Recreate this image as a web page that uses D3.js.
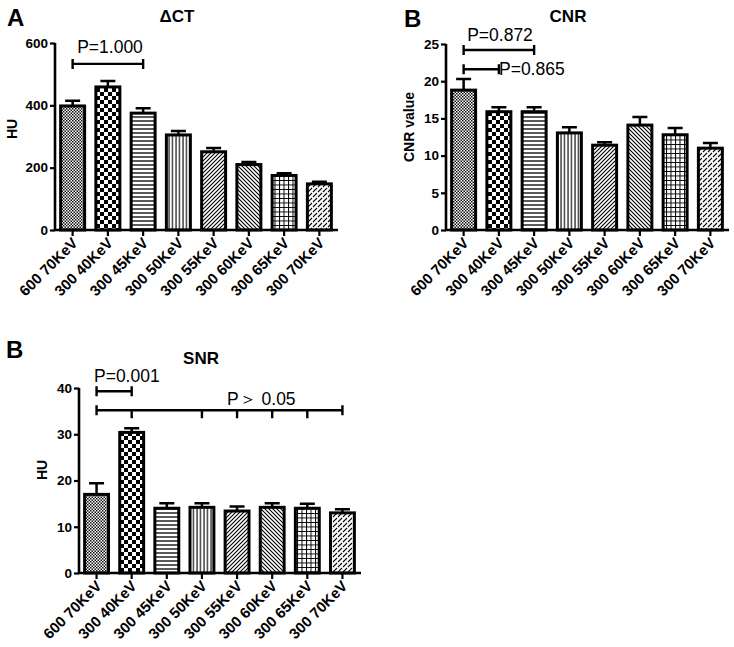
<!DOCTYPE html>
<html><head><meta charset="utf-8">
<script src="https://cdn.jsdelivr.net/npm/d3@7"></script>
<style>body{margin:0;background:#fff}svg{display:block}text{font-family:"Liberation Sans",Arial,sans-serif}</style>
</head><body>
<svg id="c" width="734" height="647"></svg>
<script>
const categories = ["600 70KeV","300 40KeV","300 45KeV","300 50KeV","300 55KeV","300 60KeV","300 65KeV","300 70KeV"];
const ctMean = [398, 459, 375, 305, 251, 210, 175, 148];
const ctErr  = [415, 478, 391, 318, 263, 218, 182, 155];
const cnrMean = [18.8, 15.9, 15.9, 13.05, 11.4, 14.1, 12.8, 11.0];
const cnrErr  = [20.3, 16.5, 16.5, 13.8, 11.8, 15.2, 13.7, 11.7];
const snrMean = [17.0, 30.4, 14.0, 14.2, 13.4, 14.2, 14.0, 13.0];
const snrErr  = [19.4, 31.3, 15.1, 15.1, 14.4, 15.1, 15.0, 13.8];
const ctTicks = [0, 200, 400, 600];
const cnrTicks = [0, 5, 10, 15, 20, 25];
const snrTicks = [0, 10, 20, 30, 40];
const patterns = ["p1","p2","p3","p4","p5","p6","p7","p8"];

const svg = d3.select("#c");
const defs = svg.append("defs");
function pat(id, w, h, draw){
  const p = defs.append("pattern").attr("id", id).attr("patternUnits","userSpaceOnUse").attr("width", w).attr("height", h);
  p.append("rect").attr("width", w).attr("height", h).attr("fill","#fff");
  draw(p);
}
pat("p1", 3, 3, p => { p.append("rect").attr("width",1.5).attr("height",1.5).attr("fill","#111"); p.append("rect").attr("x",1.5).attr("y",1.5).attr("width",1.5).attr("height",1.5).attr("fill","#111"); });
pat("p2", 8, 8, p => { p.append("rect").attr("width",4).attr("height",4).attr("fill","#000"); p.append("rect").attr("x",4).attr("y",4).attr("width",4).attr("height",4).attr("fill","#000"); });
pat("p3", 4, 4, p => { p.append("line").attr("x1",0).attr("x2",4).attr("y1",1).attr("y2",1).attr("stroke","#000").attr("stroke-width",1.3); });
pat("p4", 3.5, 4, p => { p.append("line").attr("x1",1).attr("x2",1).attr("y1",0).attr("y2",4).attr("stroke","#000").attr("stroke-width",1.1); });
pat("p5", 4, 4, p => { p.append("path").attr("d","M-1,1 L1,-1 M0,4 L4,0 M3,5 L5,3").attr("stroke","#000").attr("stroke-width",1.1); });
pat("p6", 4, 4, p => { p.append("path").attr("d","M-1,3 L1,5 M0,0 L4,4 M3,-1 L5,1").attr("stroke","#000").attr("stroke-width",1.1); });
pat("p7", 4.5, 4.5, p => { p.append("path").attr("d","M0,0.5 L4.5,0.5 M0.5,0 L0.5,4.5").attr("stroke","#000").attr("stroke-width",1); });
pat("p8", 5, 5, p => { p.append("path").attr("d","M-1.25,1.25 L1.25,-1.25 M0,5 L2,3 M3,2 L5,0 M3.75,6.25 L6.25,3.75").attr("stroke","#000").attr("stroke-width",1.2); });

function panel(cfg){
  const g = svg.append("g");
  const x = d3.scaleBand().domain(categories).range([cfg.x0, cfg.x1]).paddingInner(0.32).paddingOuter(0.16);
  const y = d3.scaleLinear().domain([0, cfg.ymax]).range([cfg.yb, cfg.yt]);
  const cx = d => x(d) + x.bandwidth()/2;
  g.selectAll(".bar").data(categories).join("rect")
    .attr("x", d => x(d)).attr("width", x.bandwidth())
    .attr("y", (d,i) => y(cfg.mean[i])).attr("height", (d,i) => y(0) - y(cfg.mean[i]))
    .attr("fill", (d,i) => `url(#${patterns[i]})`).attr("stroke","#000").attr("stroke-width",3);
  g.selectAll(".eb").data(categories).join("path")
    .attr("d", (d,i) => `M${cx(d)},${y(cfg.mean[i])}V${y(cfg.err[i])}M${cx(d)-7.5},${y(cfg.err[i])}H${cx(d)+7.5}`)
    .attr("stroke","#000").attr("stroke-width",2.5).attr("fill","none");
  const ya = g.append("g").attr("transform",`translate(${cfg.x0},0)`)
    .call(d3.axisLeft(y).tickValues(cfg.ticks).tickSize(5).tickPadding(2).tickFormat(d3.format("d")));
  const xa = g.append("g").attr("transform",`translate(0,${cfg.yb})`)
    .call(d3.axisBottom(x).tickSize(6).tickSizeOuter(0).tickFormat(""));
  [ya, xa].forEach(a => { a.select(".domain").attr("stroke","#000").attr("stroke-width",2.6);
    a.selectAll(".tick line").attr("stroke","#000").attr("stroke-width",2.2);
    a.selectAll("text").attr("font-size",13.5).attr("font-weight","bold").attr("fill","#000"); });
  ya.select(".domain").attr("d", `M0,${cfg.yb+1}V${cfg.yt}`);
  ya.selectAll(".tick line").attr("x2",-5);
  xa.select(".domain").attr("d", `M${cfg.x0-1},0H${cfg.x1+1}`);
  g.selectAll(".xl").data(categories).join("text")
    .attr("transform", d => `translate(${cx(d)+6},${cfg.yb+14}) rotate(-45)`)
    .attr("text-anchor","end").attr("font-size",15).attr("font-weight","bold").text(d => d);
  g.append("text").attr("x", cfg.letterX).attr("y", cfg.letterY).attr("font-size",24).attr("font-weight","bold").text(cfg.letter);
  g.append("text").attr("x", cfg.titleX).attr("y", cfg.titleY).attr("text-anchor","middle").attr("font-size",17).attr("font-weight","bold").text(cfg.title);
  g.append("text").attr("transform",`translate(${cfg.ylabX},${cfg.ylabY}) rotate(-90)`).attr("text-anchor","middle")
    .attr("font-size",14).attr("font-weight","bold").text(cfg.ylab);
  cfg.brackets.forEach(b => {
    const yy = y(b.level), xa1 = cx(categories[b.from]), xa2 = cx(categories[b.to]);
    let d = `M${xa1},${yy}H${xa2}M${xa1},${yy-5}V${yy+5}M${xa2},${yy-5}V${yy+5}`;
    (b.mid || []).forEach(m => { d += `M${cx(categories[m])},${yy}V${yy+8}`; });
    g.append("path").attr("d", d).attr("stroke","#000").attr("stroke-width",2.4).attr("fill","none");
    g.append("text").attr("x", b.tx).attr("y", b.ty).attr("text-anchor", b.anchor).attr("font-size",17.5).text(b.label);
  });
}

panel({x0:55, x1:337, yb:230, yt:43, ymax:600, ticks:ctTicks, mean:ctMean, err:ctErr,
  letter:"A", letterX:7, letterY:26, title:"ΔCT", titleX:177, titleY:22, ylab:"HU", ylabX:17, ylabY:129,
  brackets:[{from:0,to:2,level:533,label:"P=1.000",tx:110,ty:53,anchor:"middle"}]});
panel({x0:446, x1:728, yb:230, yt:44, ymax:25, ticks:cnrTicks, mean:cnrMean, err:cnrErr,
  letter:"B", letterX:404, letterY:27, title:"CNR", titleX:568, titleY:22, ylab:"CNR value", ylabX:414, ylabY:127,
  brackets:[{from:0,to:2,level:24.2,label:"P=0.872",tx:500,ty:41,anchor:"middle"},
            {from:0,to:1,level:21.6,label:"P=0.865",tx:499,ty:75,anchor:"start"}]});
panel({x0:79, x1:360, yb:573, yt:388, ymax:40, ticks:snrTicks, mean:snrMean, err:snrErr,
  letter:"B", letterX:6, letterY:358, title:"SNR", titleX:201, titleY:364, ylab:"HU", ylabX:47, ylabY:470,
  brackets:[{from:0,to:1,level:39.3,label:"P=0.001",tx:94,ty:382,anchor:"start"},
            {from:0,to:7,level:35.2,mid:[1,3,4,5,6],label:"P＞ 0.05",tx:227,ty:405,anchor:"start"}]});
</script>
</body></html>
